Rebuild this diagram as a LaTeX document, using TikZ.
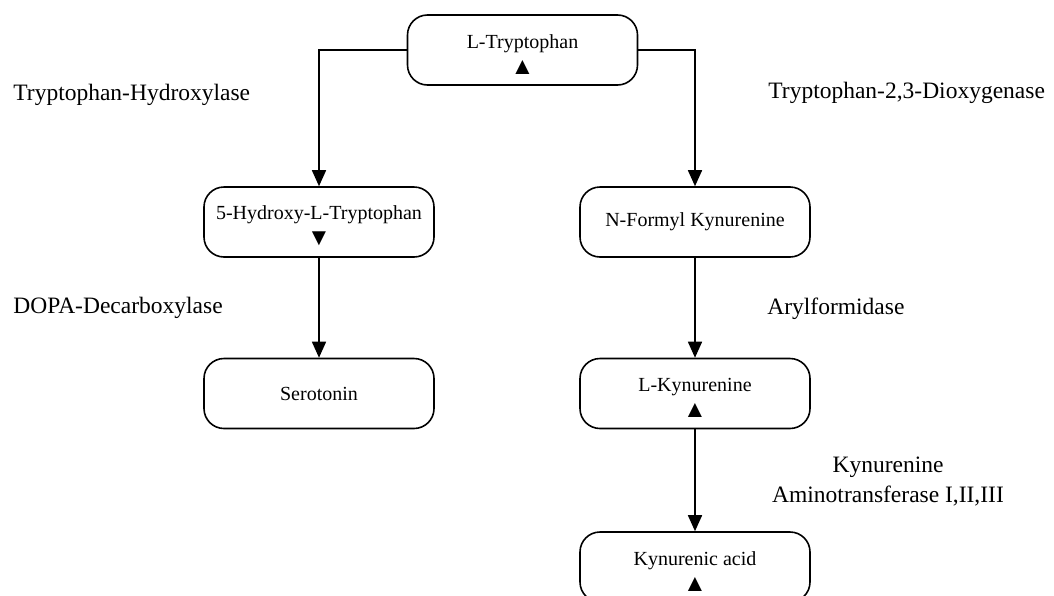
\documentclass[tikz,border=0pt]{standalone}
\usepackage{fontspec}
\setmainfont{Liberation Serif}
\usetikzlibrary{arrows.meta,positioning}
\newcommand{\uptri}{{\fontsize{12}{13}\selectfont ▲}}
\newcommand{\downtri}{{\fontsize{12}{13}\selectfont ▼}}
\newcommand{\toppad}{\rule{0pt}{11pt}}
\tikzset{
  path node/.style={draw,rounded corners=10pt,line width=0.8pt,minimum width=115pt,minimum height=35pt,
    inner sep=0pt,align=center,font=\fontsize{10}{13}\selectfont},
  path edge/.style={-{Triangle[width=7pt,length=8pt]},line width=0.8pt},
  enzyme label/.style={inner sep=0pt,align=center,font=\fontsize{11.75}{15}\selectfont},
}

\begin{document}
\begin{tikzpicture}[x=0.5pt,y=-0.5pt]
  \useasboundingbox (0,0) rectangle (1054,595);
  \node[path node] (trp) at (522.5,50) {\toppad L-Tryptophan\\\uptri};
  \node[path node] (htp) at (319,222) {\toppad 5-Hydroxy-L-Tryptophan\\\downtri};
  \node[path node] (ser) at (319,393.5) {Serotonin};
  \node[path node] (nfk) at (695,222) {N-Formyl Kynurenine};
  \node[path node] (kyn) at (695,393.5) {\toppad L-Kynurenine\\\uptri};
  \node[path node] (kyna) at (695,567) {\toppad Kynurenic acid\\\uptri};
  \node[enzyme label,anchor=west] (tph) at (13,95) {Tryptophan-Hydroxylase};
  \node[enzyme label,anchor=west] (tdo) at (768,93) {Tryptophan-2,3-Dioxygenase};
  \node[enzyme label,anchor=west] (ddc) at (13,308) {DOPA-Decarboxylase};
  \node[enzyme label,anchor=west] (afmid) at (767,309) {Arylformidase};
  \node[enzyme label] (kat) at (888,482) {Kynurenine\\Aminotransferase I,II,III};
  \draw[path edge] (trp.west) -| (htp.north);
  \draw[path edge] (trp.east) -| (nfk.north);
  \draw[path edge] (htp) -- (ser);
  \draw[path edge] (nfk) -- (kyn);
  \draw[path edge] (kyn) -- (kyna);
\end{tikzpicture}
\end{document}
